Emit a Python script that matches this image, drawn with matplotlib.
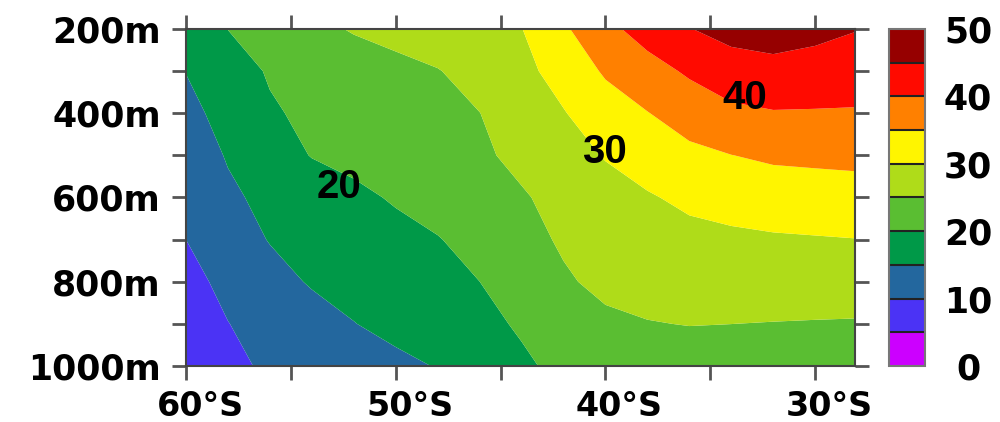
import numpy as np
import matplotlib
matplotlib.use("Agg")
import matplotlib.pyplot as plt
from matplotlib.transforms import ScaledTranslation

# ---- data -------------------------------------------------------------
lats = [-60, -58, -56, -54, -52, -50, -48, -46, -44, -42, -40, -38, -36, -34, -32, -30, -28]
depths = [200, 300, 400, 500, 600, 700, 800, 900, 1000]

row_200 = [18.2, 20.05, 21.9, 23.75, 25.37, 26.5, 27.6, 28.76, 29.89, 34.29, 38.7, 42.0, 44.86, 46.5, 47.0, 46.3, 45.15]
row_300 = [15.1, 18.07, 20.39, 21.49, 22.59, 23.69, 24.8, 26.71, 28.81, 31.71, 35.6, 38.16, 40.67, 42.97, 43.65, 43.06, 42.4]
row_400 = [13.7, 16.54, 19.52, 20.86, 21.88, 22.9, 23.93, 24.95, 27.32, 29.76, 32.6, 34.85, 37.14, 38.92, 39.69, 39.64, 39.59]
row_500 = [12.5, 15.32, 17.88, 20.18, 21.23, 22.28, 23.33, 24.39, 25.91, 28.1, 30.29, 32.08, 33.9, 34.94, 35.75, 36.0, 36.22]
row_600 = [11.26, 14.25, 16.09, 17.55, 19.01, 20.45, 21.84, 23.24, 24.64, 26.16, 28.2, 29.6, 30.92, 31.81, 32.45, 32.74, 33.01]
row_700 = [10.0, 12.75, 15.21, 16.35, 17.49, 18.64, 19.78, 21.6, 23.58, 25.53, 27.37, 28.03, 28.75, 29.13, 29.49, 29.7, 29.92]
row_800 = [8.69, 11.07, 13.45, 15.4, 16.55, 17.69, 18.84, 19.99, 22.23, 24.48, 25.97, 26.45, 26.93, 27.07, 27.17, 27.16, 27.14]
row_900 = [8.26, 9.92, 11.58, 13.23, 14.89, 16.28, 17.64, 19.0, 20.45, 22.1, 24.2, 24.84, 25.11, 25.01, 24.88, 24.77, 24.68]
row_1000 = [8.0, 9.3, 10.47, 11.63, 12.79, 13.95, 15.21, 17.29, 19.38, 20.95, 22.3, 22.7, 23.0, 23.0, 23.0, 23.2, 23.3]

levels = [0, 5, 10, 15, 20, 25, 30, 35, 40, 45, 50]
fill_colors = ["#CC00FF", "#4B33F5", "#23679E", "#009948", "#5ABE32",
               "#AFDC19", "#FFF500", "#FF8000", "#FF0A00", "#960000"]

x_ticks = [-60, -50, -40, -30]
x_labels = ["60°S", "50°S", "40°S", "30°S"]
x_minor = [-55, -45, -35]
y_ticks = [200, 400, 600, 800, 1000]
y_labels = ["200m", "400m", "600m", "800m", "1000m"]
y_minor = [300, 500, 700, 900]
cbar_ticks = [0, 10, 20, 30, 40, 50]

contour_labels = ["20", "30", "40"]
label_lats = [-52.7, -40.05, -33.37]
label_depths = [575, 492, 364]

# ---- figure -----------------------------------------------------------
values = np.array([row_200, row_300, row_400, row_500, row_600,
                   row_700, row_800, row_900, row_1000])

fig = plt.figure(figsize=(10, 4.22), dpi=100)
ax = fig.add_axes([0.186, 0.1327, 0.669, 0.7986])
cf = ax.contourf(lats, depths, values, levels=levels, colors=fill_colors, antialiased=True)

ax.set_xlim(-60, -28.1)
ax.set_ylim(1000, 200)

ax.set_xticks(x_ticks)
ax.set_xticklabels(x_labels)
ax.set_xticks(x_minor, minor=True)
ax.set_yticks(y_ticks)
ax.set_yticklabels(y_labels)
ax.set_yticks(y_minor, minor=True)

ax.tick_params(axis="both", which="both", direction="out", length=10, width=2,
               color="#555555", top=True, right=True)
ax.tick_params(axis="x", which="major", labelsize=24, pad=7)
ax.tick_params(axis="y", which="major", labelsize=25, pad=8)
for t in ax.get_xticklabels() + ax.get_yticklabels():
    t.set_fontweight("bold")
offset = ScaledTranslation(14 / 100, 0, fig.dpi_scale_trans)
for t in ax.get_xticklabels():
    t.set_transform(t.get_transform() + offset)

for sp in ax.spines.values():
    sp.set_color("#444444")
    sp.set_linewidth(1.5)

for txt, lx, ly in zip(contour_labels, label_lats, label_depths):
    ax.text(lx, ly, txt, ha="center", va="center", fontsize=29,
            family="Liberation Sans", fontweight="bold", color="black")

cax = fig.add_axes([0.889, 0.1327, 0.036, 0.7986])
cb = fig.colorbar(cf, cax=cax, ticks=cbar_ticks, drawedges=True)
cb.dividers.set_color("#222222")
cb.dividers.set_linewidth(1.5)
cb.outline.set_edgecolor("#777777")
cb.outline.set_linewidth(1.5)
cb.ax.tick_params(length=0, pad=31, labelsize=25)
for t in cb.ax.get_yticklabels():
    t.set_fontweight("bold")
    t.set_ha("center")

fig.savefig("out.png", dpi=100)
